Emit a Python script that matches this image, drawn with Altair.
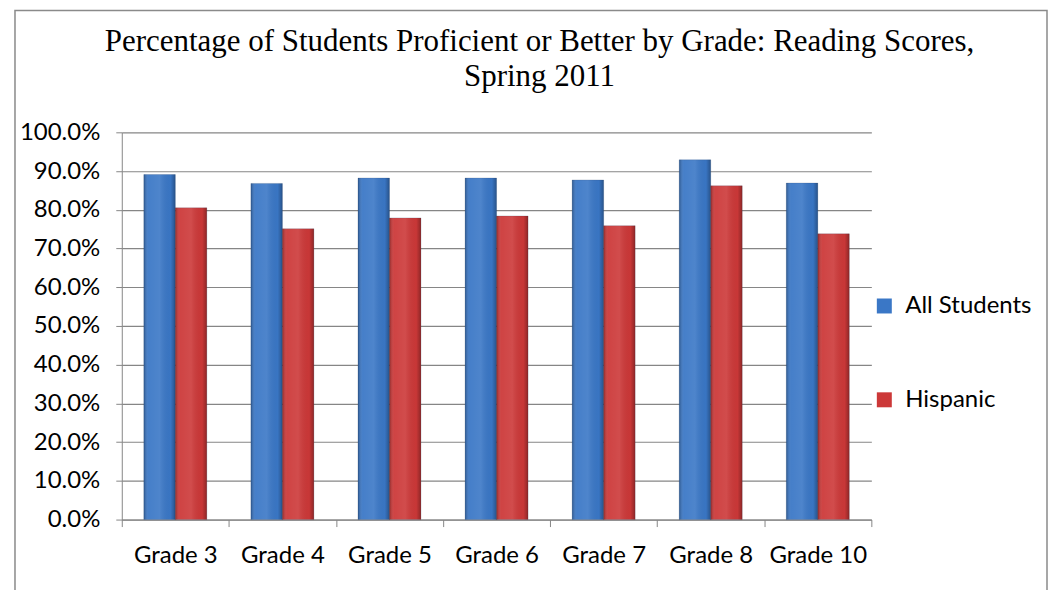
import altair as alt
import pandas as pd

grades = ["Grade 3", "Grade 4", "Grade 5", "Grade 6", "Grade 7", "Grade 8", "Grade 10"]
all_students = [0.891, 0.868, 0.882, 0.882, 0.877, 0.929, 0.869]
hispanic = [0.805, 0.751, 0.779, 0.784, 0.759, 0.862, 0.738]
series_names = ["All Students", "Hispanic"]
series_colors = ["#3a77c6", "#cc3838"]

rows = []
for g, a, h in zip(grades, all_students, hispanic):
    rows.append({"grade": g, "series": series_names[0], "value": a})
    rows.append({"grade": g, "series": series_names[1], "value": h})
df = pd.DataFrame(rows)

x_enc = alt.X("grade:N", sort=grades, title=None,
              scale=alt.Scale(paddingInner=0, paddingOuter=0),
              axis=alt.Axis(labelAngle=0, tickBand="extent", tickSize=7,
                            labelPadding=17, labelFont="Lato", labelFontSize=24,
                            labelColor="black", domainColor="#868686",
                            tickColor="#868686", grid=False))
xoff_enc = alt.XOffset("series:N", sort=series_names,
                       scale=alt.Scale(paddingOuter=0.7, paddingInner=0))
y_enc = alt.Y("value:Q", title=None,
              scale=alt.Scale(domain=[0, 1], nice=False),
              axis=alt.Axis(format=".1%", values=[i / 10 for i in range(11)],
                            tickSize=6, labelPadding=16, labelFont="Lato",
                            labelFontSize=24, labelColor="black",
                            domainColor="#868686", tickColor="#868686",
                            gridColor="#868686", gridWidth=1.2))

bars = alt.Chart(df).mark_bar(stroke="#2a3f66", strokeWidth=0.4, strokeOpacity=0.5).encode(
    x=x_enc, xOffset=xoff_enc, y=y_enc,
    color=alt.Color("series:N", sort=series_names,
                    scale=alt.Scale(domain=series_names, range=series_colors),
                    legend=alt.Legend(title=None, orient="none", legendX=752, legendY=162,
                                      symbolType="square", symbolSize=225,
                                      symbolStrokeWidth=0, labelFont="Lato",
                                      labelFontSize=24, labelColor="black",
                                      rowPadding=70, labelOffset=9)),
)

shade = alt.Chart(df).mark_bar(
    fill=alt.Gradient(
        gradient="linear", x1=0, x2=1, y1=0, y2=0,
        stops=[alt.GradientStop(offset=0, color="rgba(0,0,0,0.28)"),
               alt.GradientStop(offset=0.15, color="rgba(255,255,255,0.06)"),
               alt.GradientStop(offset=0.5, color="rgba(255,255,255,0.1)"),
               alt.GradientStop(offset=0.85, color="rgba(0,0,0,0.02)"),
               alt.GradientStop(offset=1, color="rgba(0,0,0,0.3)")]),
).encode(x=x_enc, xOffset=xoff_enc, y=y_enc)

frame = alt.Chart(pd.DataFrame({"k": [0]})).mark_rect(
    filled=False, stroke="#8a8a8a", strokeWidth=1.5).encode(
    x=alt.value(-107), x2=alt.value(927), y=alt.value(-122), y2=alt.value(600))

chart = alt.layer(frame, bars, shade).properties(
    width=751, height=388,
    title=alt.TitleParams(
        ["Percentage of Students Proficient or Better by Grade: Reading Scores,", "Spring 2011"],
        font="Liberation Serif", fontSize=31, fontWeight="normal", color="black",
        anchor="middle", frame="group", dx=43, dy=83, lineHeight=35, offset=0),
    autosize=alt.AutoSizeParams(type="none"),
    padding={"left": 114, "top": 124, "right": 178, "bottom": 70},
).configure_view(stroke=None)

chart.save("out.html", embed_options={"renderer": "svg", "actions": False})
